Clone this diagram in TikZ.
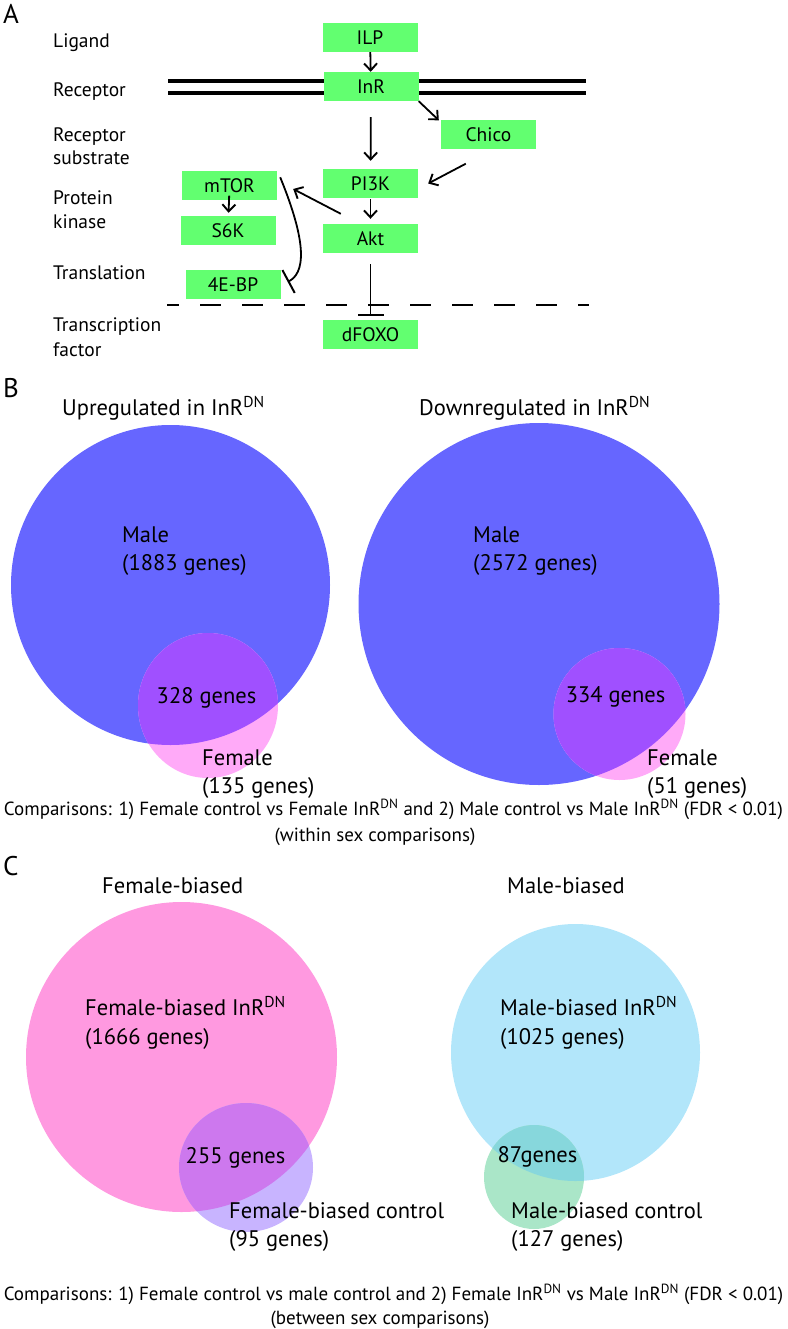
\documentclass[tikz,border=0pt]{standalone}
\usepackage{fontspec}
\setmainfont{PT Sans}
\usetikzlibrary{arrows.meta,calc}
\definecolor{boxgreen}{RGB}{98,255,112}
\definecolor{vblue}{RGB}{102,102,255}
\definecolor{vpinkB}{RGB}{255,170,248}
\definecolor{vpurpleB}{RGB}{160,80,255}
\definecolor{vpinkC}{RGB}{255,153,224}
\definecolor{vlavC}{RGB}{200,180,255}
\definecolor{vpurpleC}{RGB}{205,120,238}
\definecolor{vcyanC}{RGB}{178,230,250}
\definecolor{vgreenC}{RGB}{170,230,200}
\definecolor{vtealC}{RGB}{135,215,220}
\newcommand{\dnsup}{\textsuperscript{DN}}
\begin{document}
\begin{tikzpicture}[x=1pt,y=-1pt,
  gbox/.style={fill=boxgreen, draw=none, minimum width=95pt, minimum height=29pt, inner sep=0pt, font=\fontsize{19.5}{23}\selectfont},
  lab/.style={anchor=base west, inner sep=0pt, font=\fontsize{19.5}{23}\selectfont},
  panel/.style={anchor=base west, inner sep=0pt, font=\fontsize{27}{30}\selectfont},
  vtxt/.style={anchor=base west, inner sep=0pt, font=\fontsize{22.5}{27}\selectfont},
  vmid/.style={anchor=base, inner sep=0pt, font=\fontsize{22.5}{27}\selectfont},
  ctxt/.style={anchor=base, inner sep=0pt, font=\fontsize{19}{23}\selectfont},
  arr/.style={line width=1.8pt, -{Straight Barb[length=7pt,width=13pt,line width=1.9pt]}},
  inh/.style={line width=1.8pt, -{Bar[width=26pt,line width=2pt]}},
  membrane/.style={line width=3.2pt},
  divider/.style={line width=2pt, dash pattern=on 21pt off 21pt, dash phase=9pt}
]
\useasboundingbox (0,0) rectangle (787,1329);

% ---------------- Panel A ----------------
\node[panel] (pA) at (3,24) {A};
\node[lab] (lLig) at (53,47.5) {Ligand};
\node[lab] (lRec) at (53,96.5) {Receptor};
\node[lab] (lRs1) at (53,141.5) {Receptor};
\node[lab] (lRs2) at (53,164.5) {substrate};
\node[lab] (lPk1) at (53,204.5) {Protein};
\node[lab] (lPk2) at (53,229) {kinase};
\node[lab] (lTra) at (53,279.5) {Translation};
\node[lab] (lTf1) at (53,331.5) {Transcription};
\node[lab] (lTf2) at (53,356) {factor};

% membrane and divider
\draw[membrane] (168,81) -- (586,81);
\draw[membrane] (168,93) -- (586,93);
\draw[divider] (167,305) -- (589,305);

% boxes
\node[gbox] (ILP) at (370,37.5) {ILP};
\node[gbox] (InR) at (371,86.5) {InR};
\node[gbox] (Chico) at (488.5,135) {Chico};
\node[gbox] (PI3K) at (370.5,183.5) {PI3K};
\node[gbox] (Akt) at (370.5,238.5) {Akt};
\node[gbox] (mTOR) at (229.5,186) {mTOR};
\node[gbox] (S6K) at (228,230.5) {S6K};
\node[gbox] (EBP) at (233,285) {4E-BP};
\node[gbox] (dFOXO) at (370.5,334.5) {dFOXO};

% connectors
\draw[arr] (ILP) -- (InR);
\draw[arr, shorten <=16pt, shorten >=8pt] (InR) -- (PI3K);
\draw[arr] (InR.south east) -- ($(Chico.north west)+(-2,0)$);
\coordinate (chicoStart) at ($(Chico.south west)+(25,14)$);
\draw[arr] (chicoStart) -- ($(PI3K.east)+(10,0)$);
\draw[arr, shorten <=1pt, shorten >=5pt] (PI3K) -- (Akt);
\coordinate (aktStart) at ($(Akt.north west)+(18,-10)$);
\draw[arr] (aktStart) -- ($(mTOR.east)+(16,3)$);
\draw[arr, shorten <=-5pt, shorten >=3pt] (mTOR) -- (S6K);
\coordinate (curveStart) at ($(mTOR.north east)+(3,6)$);
\draw[inh] (curveStart) .. controls (301,228) and (310,270) .. ($(EBP.east)+(7,-3)$);
\draw[inh, shorten <=11pt, shorten >=4pt] (Akt) -- (dFOXO);

% ---------------- Panel B ----------------
\node[panel] (pB) at (3,397) {B};
\node[vtxt] (tUp) at (62,415) {Upregulated in InR\dnsup};
\node[vtxt] (tDown) at (419,415) {Downregulated in InR\dnsup};

\fill[vblue] (170.5,585) ellipse [x radius=159.5pt, y radius=160pt];
\fill[vpinkB] (208,705.5) ellipse [x radius=70pt, y radius=72.5pt];
\begin{scope}
  \clip (170.5,585) ellipse [x radius=159.5pt, y radius=160pt];
  \fill[vpurpleB] (208,705.5) ellipse [x radius=70pt, y radius=72.5pt];
\end{scope}

\fill[vblue] (539,604) ellipse [x radius=180.5pt, y radius=181pt];
\fill[vpinkB] (619.5,714) ellipse [x radius=66pt, y radius=66pt];
\begin{scope}
  \clip (539,604) ellipse [x radius=180.5pt, y radius=181pt];
  \fill[vpurpleB] (619.5,714) ellipse [x radius=66pt, y radius=66pt];
\end{scope}

\node[vtxt] (bM1) at (122,542) {Male};
\node[vtxt] (bM1n) at (122,570) {(1883 genes)};
\node[vmid] (bO1) at (206.5,703) {328 genes};
\node[vtxt] (bF1) at (202,765) {Female};
\node[vtxt] (bF1n) at (202,793) {(135 genes)};

\node[vtxt] (bM2) at (473,542) {Male};
\node[vtxt] (bM2n) at (473,570) {(2572 genes)};
\node[vmid] (bO2) at (615.5,702) {334 genes};
\node[vtxt] (bF2) at (647,765) {Female};
\node[vtxt] (bF2n) at (647,793) {(51 genes)};

\node[ctxt] (bC1) at (393.5,815) {Comparisons: 1) Female control vs Female InR\dnsup{} and 2) Male control vs Male InR\dnsup{} (FDR \textless{} 0.01)};
\node[ctxt] (bC2) at (375,841) {(within sex comparisons)};

% ---------------- Panel C ----------------
\node[panel] (pC) at (3,875) {C};
\node[vtxt] (tFb) at (102,893) {Female-biased};
\node[vtxt] (tMb) at (507,893) {Male-biased};

\fill[vpinkC] (181.5,1057) ellipse [x radius=155.5pt, y radius=155pt];
\fill[vlavC] (246,1167.5) ellipse [x radius=67pt, y radius=64.5pt];
\begin{scope}
  \clip (181.5,1057) ellipse [x radius=155.5pt, y radius=155pt];
  \fill[vpurpleC] (246,1167.5) ellipse [x radius=67pt, y radius=64.5pt];
\end{scope}

\fill[vcyanC] (575.5,1052.5) ellipse [x radius=124.5pt, y radius=128.5pt];
\fill[vgreenC] (534,1177) ellipse [x radius=50pt, y radius=52pt];
\begin{scope}
  \clip (575.5,1052.5) ellipse [x radius=124.5pt, y radius=128.5pt];
  \fill[vtealC] (534,1177) ellipse [x radius=50pt, y radius=52pt];
\end{scope}

\node[vtxt] (cF1) at (85,1015) {Female-biased InR\dnsup};
\node[vtxt] (cF1n) at (85,1044) {(1666 genes)};
\node[vmid] (cO1) at (235.5,1163) {255 genes};
\node[vtxt] (cF2) at (229,1218) {Female-biased control};
\node[vtxt] (cF2n) at (229,1246) {(95 genes)};

\node[vtxt] (cM1) at (500,1015) {Male-biased InR\dnsup};
\node[vtxt] (cM1n) at (500,1044) {(1025 genes)};
\node[vmid] (cO2) at (537.5,1162) {87genes};
\node[vtxt] (cM2) at (511,1218) {Male-biased control};
\node[vtxt] (cM2n) at (511,1246) {(127 genes)};

\node[ctxt] (cC1) at (393.5,1300) {Comparisons: 1) Female control vs male control and 2) Female InR\dnsup{} vs Male InR\dnsup{} (FDR \textless{} 0.01)};
\node[ctxt] (cC2) at (380,1324) {(between sex comparisons)};
\end{tikzpicture}
\end{document}
